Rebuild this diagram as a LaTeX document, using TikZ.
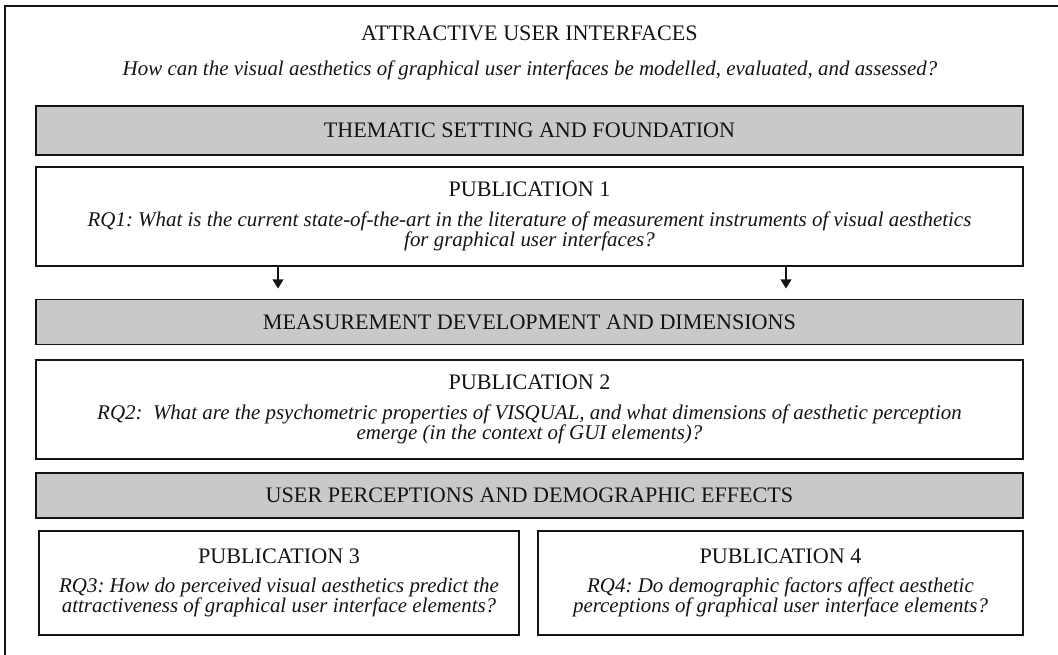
\documentclass[tikz,border=0pt]{standalone}
\usepackage{fontspec}
\setmainfont{Liberation Serif}
\usetikzlibrary{arrows.meta}
\definecolor{bandgray}{RGB}{201,201,201}
\definecolor{ink}{RGB}{20,20,20}
\newcommand{\rqfont}{\fontsize{15.7pt}{15pt}\selectfont\itshape}
\frenchspacing
\begin{document}
\begin{tikzpicture}[x=0.75pt,y=-0.75pt,
  every node/.style={font=\fontsize{16.6pt}{15pt}\selectfont, text=ink},
  band/.style={draw=ink, line width=1.3pt, fill=bandgray, inner sep=0pt, minimum width=740.25pt},
  pubbox/.style={draw=ink, line width=1.3pt, fill=white, inner sep=0pt, align=center},
  rq/.style={font=\rqfont},
  arr/.style={draw=ink, line width=1.8pt, -{Triangle[width=8pt,length=7pt]}}]
  \useasboundingbox (0,0) rectangle (1058,655);
  \clip (0,0) rectangle (1058,655);
  % outer frame (runs off the right and bottom edges)
  \draw[ink, line width=1.6pt] (5,6) rectangle (1080,680);

  % heading
  \node (title) at (529.5,33) {ATTRACTIVE USER INTERFACES};
  \node[rq] (question) at (530,70) {How can the visual aesthetics of graphical user interfaces be modelled, evaluated, and assessed?};

  % thematic setting
  \node[band, minimum height=36.75pt] (g1) at (529.5,130.5) {THEMATIC SETTING AND FOUNDATION};
  \node[pubbox, minimum width=740.25pt, minimum height=74.25pt] (p1) at (529.5,216.5)
    {PUBLICATION 1\\[7pt]
     {\rqfont RQ1: What is the current state-of-the-art in the literature of measurement instruments of visual aesthetics}\\
     {\rqfont for graphical user interfaces?}};

  % measurement development
  \node[band, minimum height=33.75pt] (g2) at (529.5,322) {MEASUREMENT DEVELOPMENT AND DIMENSIONS};
  \node[pubbox, minimum width=740.25pt, minimum height=74.25pt] (p2) at (529.5,409.5)
    {PUBLICATION 2\\[7pt]
     {\rqfont RQ2:\ \ What are the psychometric properties of VISQUAL, and what dimensions of aesthetic perception}\\
     {\rqfont emerge (in the context of GUI elements)?}};

  % user perceptions
  \node[band, minimum height=33.75pt] (g3) at (529.5,495.5) {USER PERCEPTIONS AND DEMOGRAPHIC EFFECTS};
  \node[pubbox, minimum width=360pt, minimum height=78pt] (p3) at (279,583)
    {PUBLICATION 3\\[7pt]
     {\rqfont RQ3: How do perceived visual aesthetics predict the}\\
     {\rqfont attractiveness of graphical user interface elements?}};
  \node[pubbox, minimum width=363.75pt, minimum height=78pt] (p4) at (780.5,583)
    {PUBLICATION 4\\[7pt]
     {\rqfont RQ4: Do demographic factors affect aesthetic}\\
     {\rqfont perceptions of graphical user interface elements?}};

  % arrows from publication 1 into the second band
  \coordinate (a1) at (278,0);
  \coordinate (a2) at (786,0);
  \draw[arr, shorten >=7.5pt] (p1.south -| a1) -- (g2.north -| a1);
  \draw[arr, shorten >=7.5pt] (p1.south -| a2) -- (g2.north -| a2);
\end{tikzpicture}
\end{document}
